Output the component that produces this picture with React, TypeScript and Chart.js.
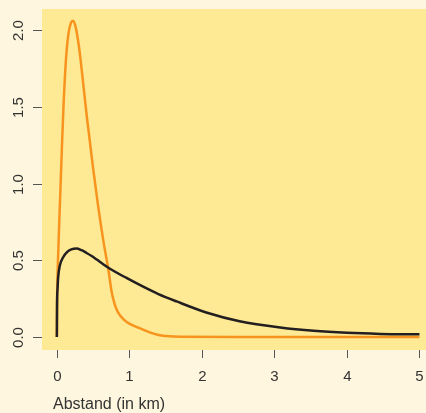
import React, { useEffect, useRef } from "react";
import { Chart, registerables } from "chart.js";

Chart.register(...registerables);

// Orange curve
const orangeX = [0, 0.005, 0.014, 0.04, 0.069, 0.09, 0.124, 0.16, 0.195, 0.225, 0.26, 0.3, 0.327, 0.41, 0.5, 0.57, 0.64, 0.71, 0.757, 0.8, 0.85, 0.92, 1.0, 1.14, 1.28, 1.4, 1.55, 1.7, 2.5, 3.5, 4.5, 5];
const orangeY = [0, 0.3, 0.48, 0.84, 1.23, 1.49, 1.8, 1.98, 2.05, 2.063, 2.02, 1.91, 1.81, 1.45, 1.1, 0.85, 0.63, 0.44, 0.29, 0.21, 0.155, 0.115, 0.087, 0.058, 0.03, 0.013, 0.004, 0.001, 0, 0, 0, 0];

// Black curve
const blackX = [0, 0.002, 0.01, 0.018, 0.04, 0.087, 0.14, 0.2, 0.27, 0.34, 0.41, 0.48, 0.55, 0.63, 0.71, 0.96, 1.19, 1.4, 1.65, 2.06, 2.52, 3.08, 3.54, 4.0, 4.46, 5.0];
const blackY = [0, 0.2, 0.32, 0.39, 0.465, 0.52, 0.553, 0.571, 0.577, 0.566, 0.548, 0.528, 0.505, 0.478, 0.452, 0.385, 0.328, 0.28, 0.232, 0.16, 0.103, 0.062, 0.04, 0.027, 0.02, 0.017];

const xTicks = [0, 1, 2, 3, 4, 5];
const yTicks = [0, 0.5, 1, 1.5, 2];
const yTickLabels = ["0.0", "0.5", "1.0", "1.5", "2.0"];
const xTitle = "Abstand (in km)";

const OUTER_BG = "#FEF6DE";
const PLOT_BG = "#FEE994";
const FONT = "15px 'Liberation Sans', Arial, sans-serif";

const decorPlugin = {
  id: "decor",
  beforeDraw(chart: any) {
    const { ctx, chartArea } = chart;
    ctx.save();
    ctx.fillStyle = OUTER_BG;
    ctx.fillRect(0, 0, chart.width, chart.height);
    ctx.fillStyle = PLOT_BG;
    ctx.fillRect(chartArea.left, chartArea.top, chartArea.right - chartArea.left, chartArea.bottom - chartArea.top);
    ctx.restore();
  },
  afterDraw(chart: any) {
    const { ctx, chartArea } = chart;
    const xs = chart.scales.x;
    const ys = chart.scales.y;
    ctx.save();
    ctx.strokeStyle = "#555";
    ctx.lineWidth = 1;
    ctx.fillStyle = "#333";
    ctx.font = FONT;
    // y ticks
    yTicks.forEach((v, i) => {
      const py = Math.round(ys.getPixelForValue(v)) + 0.5;
      ctx.beginPath();
      ctx.moveTo(chartArea.left - 9, py);
      ctx.lineTo(chartArea.left, py);
      ctx.stroke();
      ctx.save();
      ctx.translate(19, py);
      ctx.rotate(-Math.PI / 2);
      ctx.textAlign = "center";
      ctx.textBaseline = "middle";
      ctx.fillText(yTickLabels[i], 0, 0);
      ctx.restore();
    });
    // x ticks
    xTicks.forEach((v) => {
      const px = Math.round(xs.getPixelForValue(v)) + 0.5;
      ctx.beginPath();
      ctx.moveTo(px, chartArea.bottom);
      ctx.lineTo(px, chartArea.bottom + 8);
      ctx.stroke();
      ctx.textAlign = "center";
      ctx.textBaseline = "middle";
      ctx.fillText(String(v), px, 377);
    });
    ctx.textAlign = "left";
    ctx.textBaseline = "middle";
    ctx.font = "16px 'Liberation Sans', Arial, sans-serif";
    ctx.fillText(xTitle, 53, 405);
    ctx.restore();
  },
};

export default function App() {
  const ref = useRef<HTMLCanvasElement | null>(null);
  useEffect(() => {
    document.body.style.margin = "0";
    const canvas = ref.current!;
    const chart = new Chart(canvas, {
      type: "line",
      data: {
        datasets: [
          {
            label: "black",
            data: blackX.map((x, i) => ({ x, y: blackY[i] })),
            borderColor: "#231F20",
            borderWidth: 2.5,
            pointRadius: 0,
            cubicInterpolationMode: "monotone",
            fill: false,
            order: 0,
          },
          {
            label: "orange",
            data: orangeX.map((x, i) => ({ x, y: orangeY[i] })),
            borderColor: "#F7941E",
            borderWidth: 2.5,
            pointRadius: 0,
            cubicInterpolationMode: "monotone",
            fill: false,
            order: 1,
          },
        ],
      },
      options: {
        animation: false,
        responsive: false,
        maintainAspectRatio: false,
        layout: { padding: { left: 42, top: 9, right: 0, bottom: 63 } },
        plugins: { legend: { display: false }, tooltip: { enabled: false } },
        scales: {
          x: { type: "linear", display: false, min: -0.205, max: 5.09 },
          y: { type: "linear", display: false, min: -0.085, max: 2.14 },
        },
      },
      plugins: [decorPlugin],
    });
    return () => chart.destroy();
  }, []);
  return (
    <div style={{ position: "absolute", left: 0, top: 0, width: 426, height: 413 }}>
      <canvas ref={ref} width={426} height={413} style={{ display: "block", width: 426, height: 413 }} />
    </div>
  );
}
